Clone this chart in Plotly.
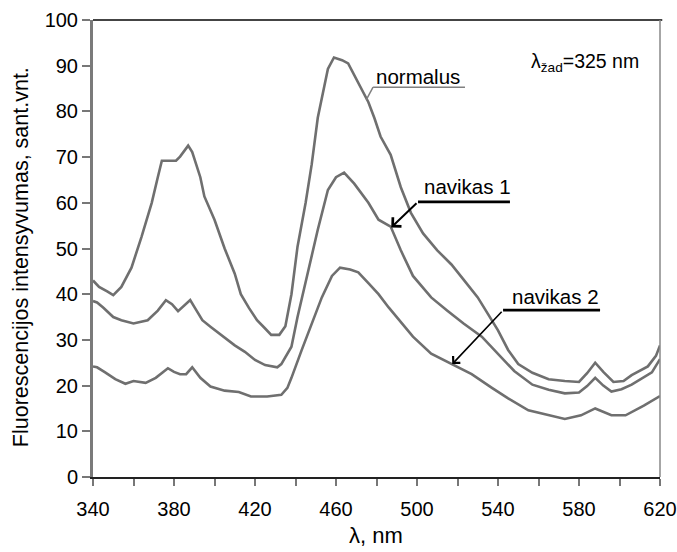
import plotly.graph_objects as go

# ---- data ----
wl_normal = [340, 343, 347, 350, 354, 359, 364, 369, 372, 374, 381, 383, 387, 389, 393, 395, 400, 405,
             410, 413, 417, 421, 425, 428, 432, 435, 438, 441, 445, 448, 451, 454, 456, 459, 463, 466,
             469, 472, 476, 479, 482, 487, 492, 497, 503, 510, 517, 523, 530, 535, 540, 545, 550, 557,
             565, 573, 580, 584, 588, 592, 597, 602, 606, 614, 618, 620]
normal = [43.0, 41.6, 40.6, 39.8, 41.6, 45.8, 52.6, 60.0, 65.6, 69.2, 69.2, 70.1, 72.5, 71.1, 65.6, 61.4,
          56.3, 50.0, 44.5, 40.0, 37.0, 34.3, 32.5, 31.1, 31.1, 33.0, 40.0, 50.4, 60.0, 68.4, 78.6, 85.3,
          89.3, 91.8, 91.2, 90.5, 88.0, 85.3, 82.0, 78.5, 74.5, 70.5, 63.4, 57.8, 53.3, 49.6, 46.5, 43.2,
          39.3, 35.7, 32.1, 27.8, 24.7, 22.8, 21.4, 21.0, 20.8, 22.7, 25.0, 23.0, 20.8, 21.0, 22.3, 24.2,
          26.5, 28.8]

wl_nav1 = [340, 342, 345, 350, 354, 360, 367, 372, 376, 379, 382, 385, 388, 391, 394, 398, 405, 410, 415,
           420, 425, 431, 433, 436, 438, 441, 446, 451, 456, 460, 464, 469, 476, 481, 487, 492, 498, 507,
           515, 523, 532, 540, 548, 557, 565, 573, 580, 584, 588, 592, 596, 601, 606, 616, 620]
navikas1 = [38.5, 38.2, 37.1, 35.0, 34.3, 33.6, 34.3, 36.4, 38.7, 37.8, 36.3, 37.5, 38.7, 36.5, 34.3, 32.9,
            30.4, 28.8, 27.4, 25.6, 24.5, 24.0, 24.7, 27.0, 28.5, 35.0, 44.8, 54.1, 62.8, 65.6, 66.6, 64.2,
            60.0, 56.3, 54.8, 49.6, 44.0, 39.3, 36.4, 33.6, 30.7, 27.0, 23.2, 20.2, 19.1, 18.3, 18.5, 19.9,
            21.7, 20.0, 18.7, 19.2, 20.2, 22.9, 25.8]

wl_nav2 = [340, 342, 346, 351, 356, 360, 366, 371, 377, 380, 383, 386, 389, 393, 398, 405, 412, 418, 426,
           433, 436, 438, 443, 448, 453, 458, 462, 467, 471, 476, 481, 486, 490, 498, 507, 517, 527, 537,
           545, 555, 565, 573, 581, 588, 596, 603, 612, 620]
navikas2 = [24.2, 24.0, 22.9, 21.4, 20.4, 21.0, 20.6, 21.7, 23.8, 23.0, 22.5, 22.5, 24.0, 21.7, 19.8, 18.9,
            18.6, 17.6, 17.6, 18.0, 19.5, 21.7, 27.7, 33.6, 39.3, 44.0, 45.8, 45.4, 44.8, 42.4, 40.0, 37.1,
            35.0, 30.7, 27.0, 24.7, 22.5, 19.5, 17.2, 14.6, 13.5, 12.7, 13.5, 15.0, 13.5, 13.5, 15.6, 17.7]

x_tick_vals = [340, 380, 420, 460, 500, 540, 580, 620]
y_tick_vals = [0, 10, 20, 30, 40, 50, 60, 70, 80, 90, 100]

LINE = "#6f6f6f"
FONT = "Liberation Sans, Arial, sans-serif"

fig = go.Figure()
for xs, ys, name in [(wl_normal, normal, "normalus"), (wl_nav1, navikas1, "navikas 1"),
                     (wl_nav2, navikas2, "navikas 2")]:
    fig.add_trace(go.Scatter(x=xs, y=ys, mode="lines", name=name,
                             line=dict(color=LINE, width=2.6), showlegend=False))

# ---- labels ----
# normalus: grey underline + leader to curve
fig.add_shape(type="line", x0=478.3, y0=85.3, x1=523.7, y1=85.3, xref="x", yref="y",
              line=dict(color="#808080", width=1.5))
fig.add_shape(type="line", x0=478.3, y0=85.3, x1=475.0, y1=82.6, xref="x", yref="y",
              line=dict(color="#808080", width=1.5))
fig.add_annotation(x=500.7, y=87.6, xref="x", yref="y", text="normalus", showarrow=False,
                   xanchor="center", yanchor="middle",
                   font=dict(size=20.5, color="black", family=FONT))

# navikas 1
fig.add_shape(type="line", x0=500.5, y0=60.2, x1=545.9, y1=60.2, xref="x", yref="y",
              line=dict(color="black", width=2.8))
fig.add_annotation(x=487.3, y=54.6, ax=500.5, ay=60.2, xref="x", yref="y", axref="x", ayref="y",
                   text="", showarrow=True, arrowhead=4, arrowsize=1.2, arrowwidth=2,
                   arrowcolor="black")
fig.add_annotation(x=524.9, y=63.5, xref="x", yref="y", text="navikas 1", showarrow=False,
                   xanchor="center", yanchor="middle",
                   font=dict(size=20.5, color="black", family=FONT))

# navikas 2
fig.add_shape(type="line", x0=542.5, y0=36.5, x1=590.4, y1=36.5, xref="x", yref="y",
              line=dict(color="black", width=2.8))
fig.add_annotation(x=517.4, y=24.7, ax=542.5, ay=36.5, xref="x", yref="y", axref="x", ayref="y",
                   text="", showarrow=True, arrowhead=4, arrowsize=1.2, arrowwidth=1.6,
                   arrowcolor="black")
fig.add_annotation(x=568.4, y=39.6, xref="x", yref="y", text="navikas 2", showarrow=False,
                   xanchor="center", yanchor="middle",
                   font=dict(size=20.5, color="black", family=FONT))

# excitation wavelength
fig.add_annotation(x=583, y=90.6, xref="x", yref="y",
                   text="λ<sub>žad</sub>=325 nm", showarrow=False,
                   xanchor="center", yanchor="middle",
                   font=dict(size=19.5, color="black", family=FONT))

# axis titles
fig.add_annotation(x=0.499, y=-0.129, xref="paper", yref="paper", text="λ, nm", showarrow=False,
                   xanchor="center", yanchor="middle",
                   font=dict(size=22, color="black", family=FONT))
fig.add_annotation(x=-0.128, y=0.482, xref="paper", yref="paper",
                   text="Fluorescencijos intensyvumas, sant.vnt.", textangle=-90,
                   xanchor="center", yanchor="middle",
                   showarrow=False, font=dict(size=21.5, color="black", family=FONT))

# frame: top and right borders
fig.add_shape(type="line", x0=0, y0=1, x1=1.004, y1=1, xref="paper", yref="paper",
              line=dict(color="#444444", width=2))
fig.add_shape(type="line", x0=1, y0=0, x1=1, y1=1, xref="paper", yref="paper",
              line=dict(color="#888888", width=1.5))

fig.update_xaxes(range=[340, 620], tickvals=x_tick_vals, ticktext=[str(v) for v in x_tick_vals],
                 ticks="outside", ticklen=7, tickwidth=2, tickcolor="#777777",
                 minor=dict(dtick=20, tick0=340, ticks="outside", ticklen=7, tickwidth=2,
                            tickcolor="#777777"),
                 showline=True, linecolor="#222222", linewidth=2, showgrid=False, zeroline=False,
                 automargin=False, ticklabelstandoff=6,
                 tickfont=dict(size=20, color="black", family=FONT))
fig.update_yaxes(range=[0, 100], tickvals=y_tick_vals, ticks="outside", ticklen=8, tickwidth=2,
                 tickcolor="#777777", showline=True, linecolor="#7a7a7a", linewidth=3,
                 showgrid=False, zeroline=False, automargin=False,
                 tickfont=dict(size=20, color="black", family=FONT))

fig.update_layout(width=677, height=552, margin=dict(l=93, r=17, t=20, b=75),
                  paper_bgcolor="white", plot_bgcolor="white",
                  font=dict(family=FONT, color="black"))

fig.write_html("out.html")
